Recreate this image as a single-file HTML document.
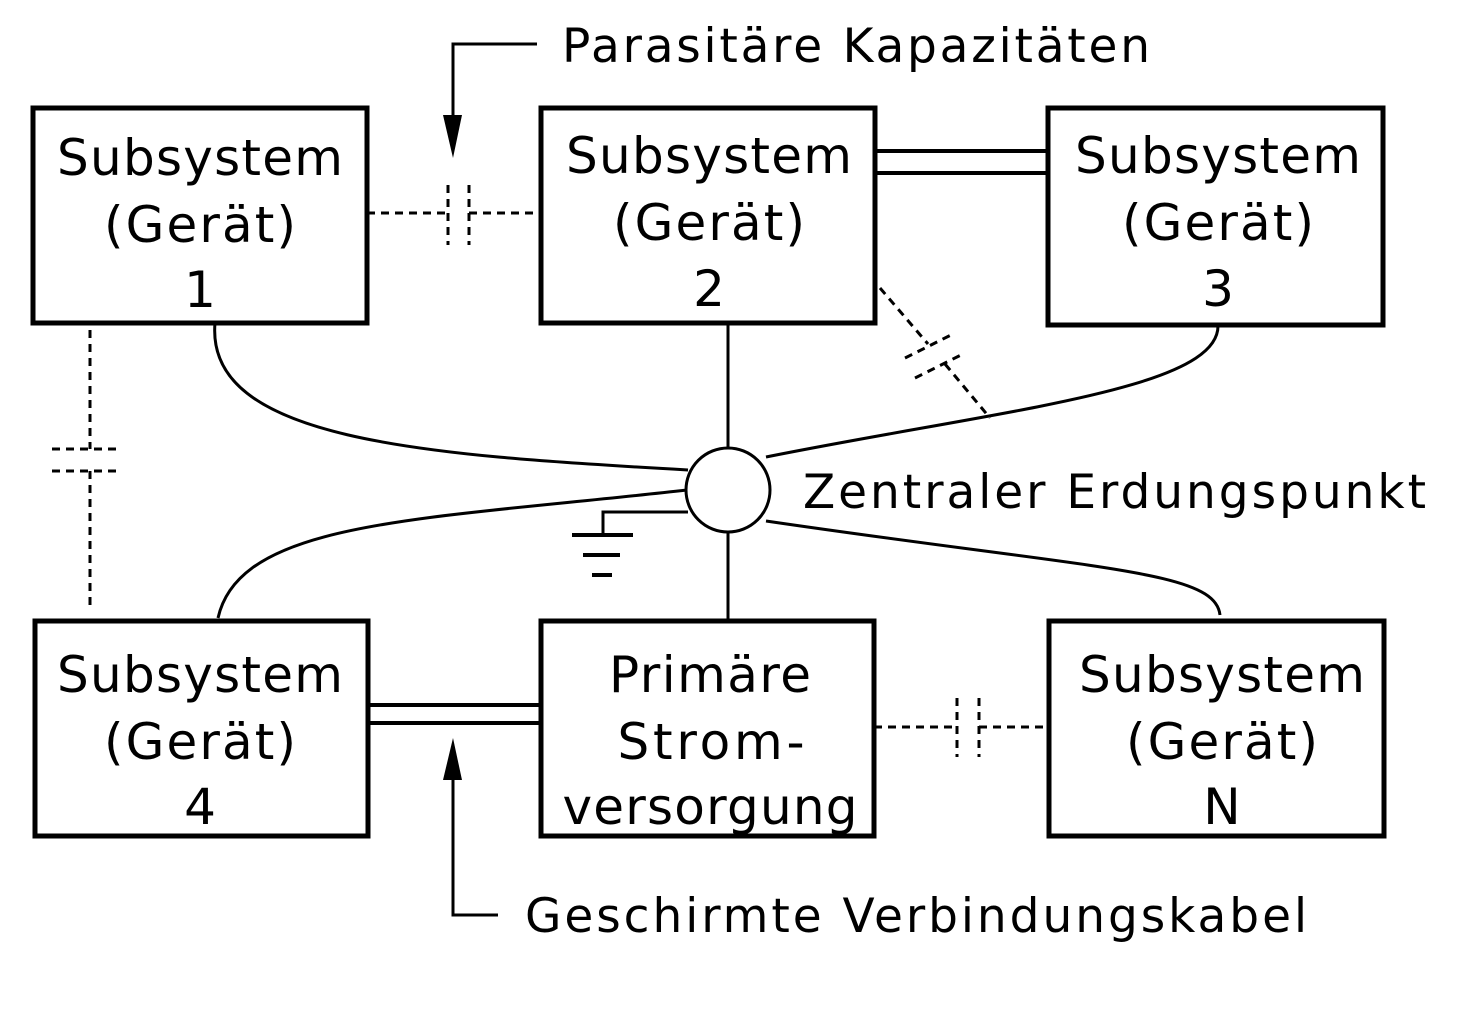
<!DOCTYPE html>
<html><head><meta charset="utf-8"><style>html,body{margin:0;padding:0;background:#fff}svg{display:block}</style></head>
<body>
<svg width="1478" height="1011" viewBox="0 0 1478 1011" xmlns="http://www.w3.org/2000/svg" font-family="DejaVu Sans, Liberation Sans, sans-serif" font-size="44" fill="#000">
<g fill="none" stroke="#000" stroke-width="5">
<rect x="33" y="108" width="334" height="215"/>
<rect x="541" y="108" width="334" height="215"/>
<rect x="1048" y="108" width="335" height="217"/>
<rect x="35" y="621" width="333" height="215"/>
<rect x="541" y="621" width="333" height="215"/>
<rect x="1049" y="621" width="335" height="215"/>
</g>
<g fill="none" stroke="#000" stroke-width="3">
<circle cx="728" cy="490" r="42"/>
<line x1="728" y1="323" x2="728" y2="448"/>
<line x1="728" y1="532" x2="728" y2="621"/>
<path d="M215 323 C205 440 420 455 688 470"/>
<path d="M1218 325 C1220 390 1000 410 766 457"/>
<path d="M218 618 C240 520 420 520 687 490"/>
<path d="M1220 615 C1215 570 1100 570 766 521"/>
<path d="M688 512 H603 V534"/>
</g>
<g stroke="#000" stroke-width="4">
<line x1="572" y1="535" x2="633" y2="535"/>
<line x1="583" y1="555" x2="620" y2="555"/>
<line x1="592" y1="575" x2="612" y2="575"/>
<line x1="875" y1="151" x2="1048" y2="151"/>
<line x1="875" y1="173" x2="1048" y2="173"/>
<line x1="368" y1="705" x2="541" y2="705"/>
<line x1="368" y1="723" x2="541" y2="723"/>
</g>
<g fill="none" stroke="#000" stroke-width="3" stroke-dasharray="8,6">
<path d="M367 213 H448 M469 213 H540"/>
<path d="M448 185 V245 M469 185 V245"/>
<path d="M90 330 V449 M90 471 V610"/>
<path d="M52 449 H117 M52 471 H117"/>
<path d="M874 727 H957 M979 727 H1048"/>
<path d="M957 698 V757 M979 698 V757"/>
<path d="M880 288 L928 344 M945 364 L990 418"/>
<path d="M905 358 L953 334 M915 378 L963 354"/>
</g>
<g fill="none" stroke="#000" stroke-width="3">
<path d="M537 44 H453 V140"/>
<path d="M498 915 H453 V760"/>
</g>
<polygon points="443,115 462,115 453,158"/>
<polygon points="443,780 462,780 453,738"/>
<g text-anchor="middle" font-size="50" lengthAdjust="spacingAndGlyphs">
<text x="200" y="175" textLength="286">Subsystem</text><text x="200" y="242" textLength="192">(Gerät)</text><text x="200" y="307">1</text>
<text x="709" y="173" textLength="286">Subsystem</text><text x="709" y="240" textLength="192">(Gerät)</text><text x="709" y="306">2</text>
<text x="1218" y="173" textLength="286">Subsystem</text><text x="1218" y="240" textLength="192">(Gerät)</text><text x="1218" y="306">3</text>
<text x="200" y="692" textLength="286">Subsystem</text><text x="200" y="759" textLength="192">(Gerät)</text><text x="200" y="824">4</text>
<text x="710" y="692" textLength="202">Primäre</text><text x="711" y="759" textLength="187">Strom-</text><text x="710" y="824" textLength="295">versorgung</text>
<text x="1222" y="692" textLength="286">Subsystem</text><text x="1222" y="759" textLength="192">(Gerät)</text><text x="1222" y="824">N</text>
</g>
<g font-size="47" lengthAdjust="spacingAndGlyphs">
<text x="562" y="62" textLength="588">Parasitäre Kapazitäten</text>
<text x="803" y="508" textLength="623">Zentraler Erdungspunkt</text>
<text x="525" y="932" textLength="782">Geschirmte Verbindungskabel</text>
</g>
</svg>
</body></html>
